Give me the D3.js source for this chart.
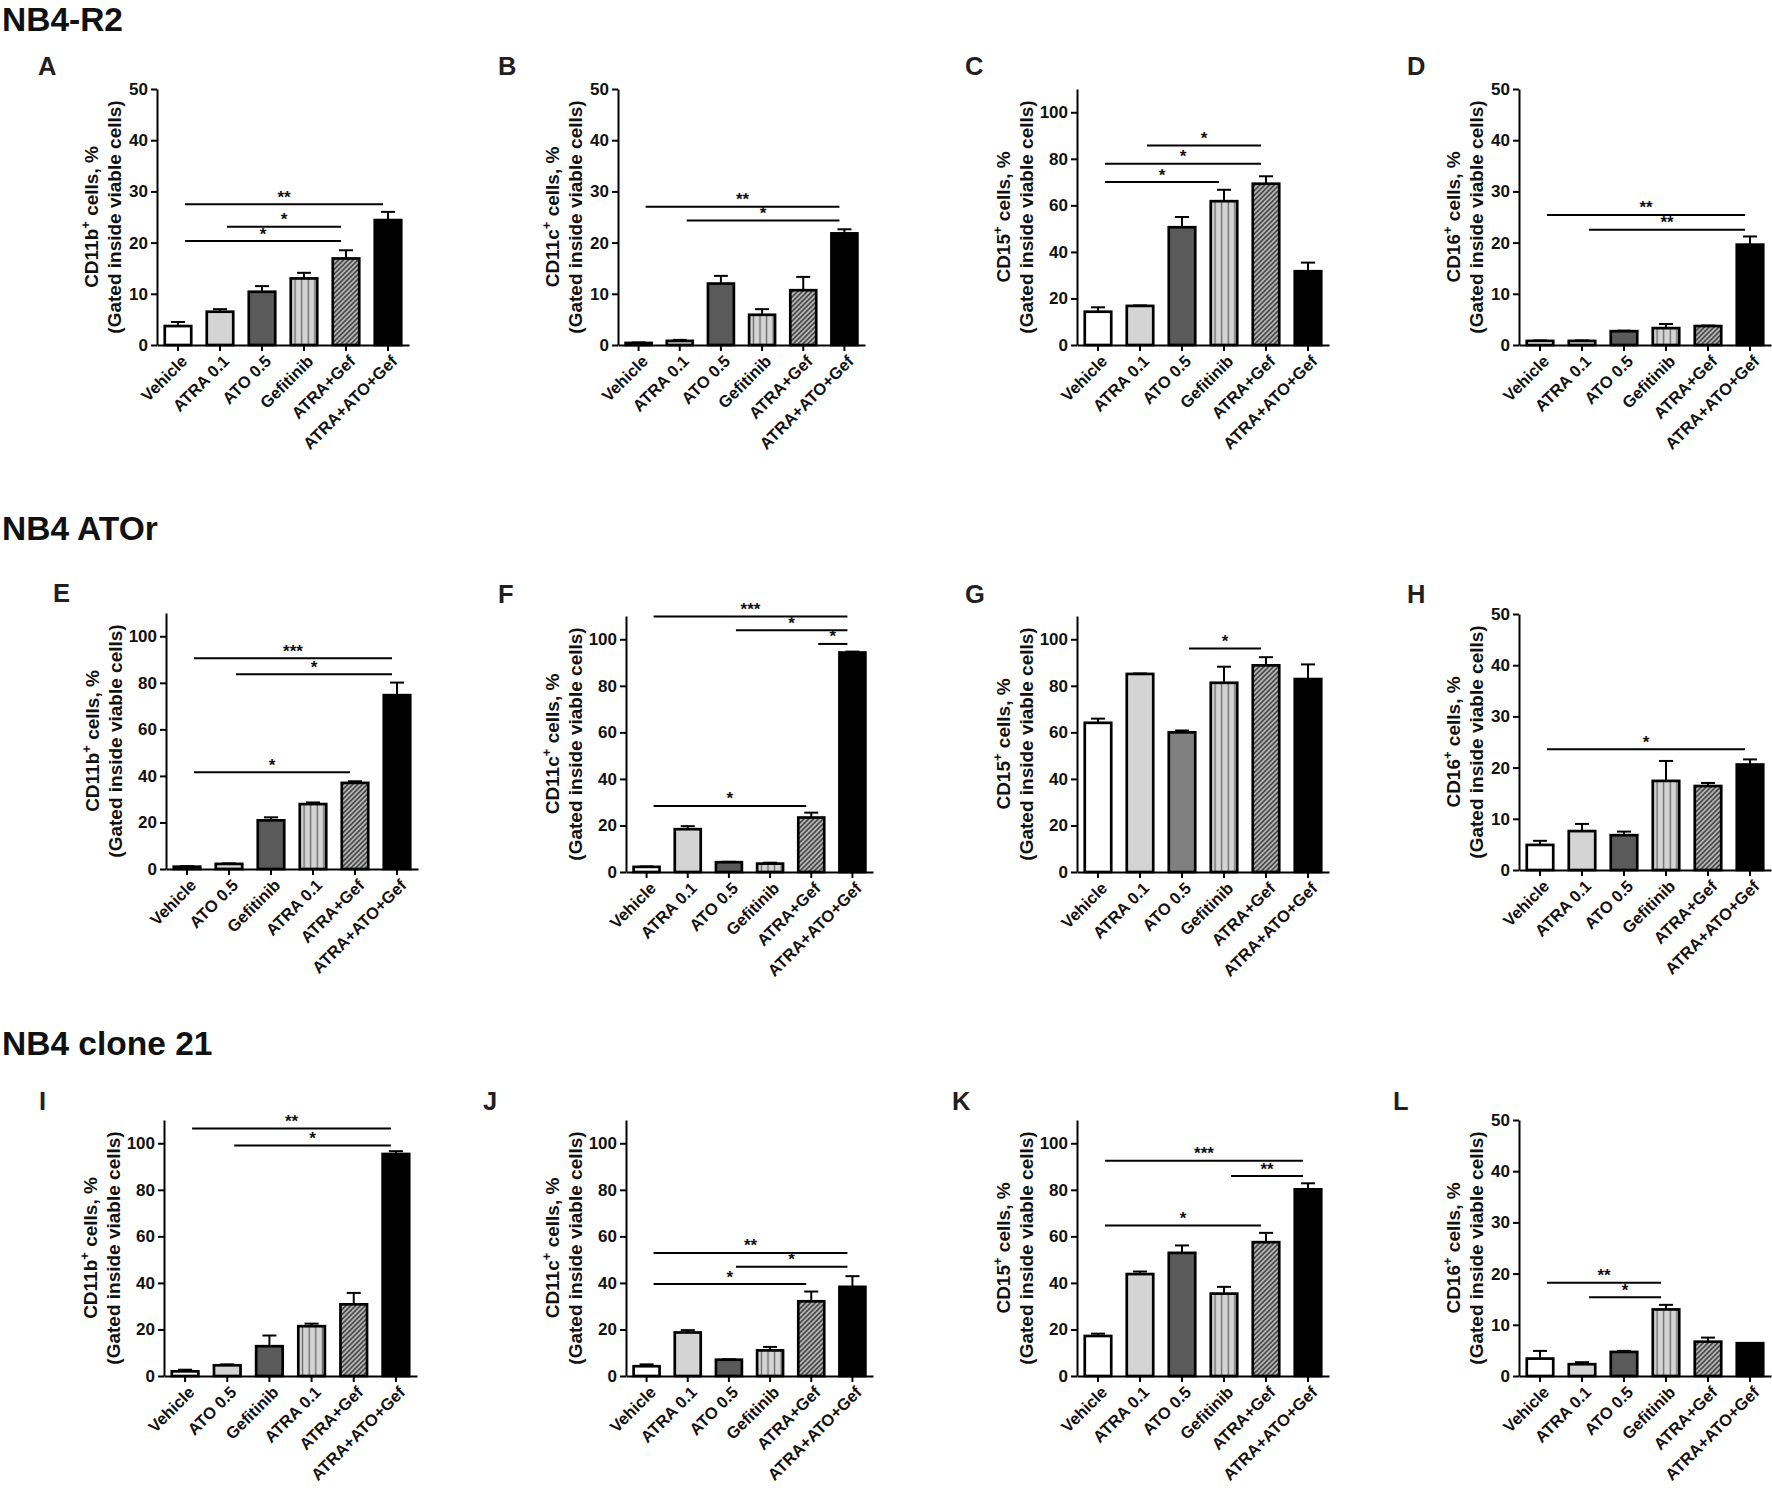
<!DOCTYPE html>
<html>
<head>
<meta charset="utf-8">
<script src="https://cdn.jsdelivr.net/npm/d3@7"></script>
<style>
  body { margin: 0; background: #fff; }
  svg { display: block; font-family: Arial, "Liberation Sans", sans-serif; }
</style>
</head>
<body>
<svg id="fig" width="1772" height="1488"></svg>
<script>
// categories (two orderings are used in the figure)
var catsStd = ["Vehicle", "ATRA 0.1", "ATO 0.5", "Gefitinib", "ATRA+Gef", "ATRA+ATO+Gef"];
var catsAlt = ["Vehicle", "ATO 0.5", "Gefitinib", "ATRA 0.1", "ATRA+Gef", "ATRA+ATO+Gef"];

var ticks50 = [0, 10, 20, 30, 40, 50];
var ticks100 = [0, 20, 40, 60, 80, 100];

// mean, error (SEM, upward) and significance bars [from, to, level, stars]
var meanA = [3.7, 6.5, 10.4, 13.0, 16.9, 24.4];
var errA  = [0.8, 0.5, 1.1, 1.1, 1.6, 1.6];
var sigA  = [[0, 5, 27.5, "**"], [1, 4, 23.1, "*"], [0, 4, 20.3, "*"]];

var meanB = [0.4, 0.8, 12.0, 5.9, 10.7, 21.8];
var errB  = [0.1, 0.2, 1.5, 1.1, 2.6, 0.8];
var sigB  = [[0, 5, 27.0, "**"], [1, 5, 24.3, "*"]];

var meanC = [14.3, 16.8, 50.6, 61.8, 69.3, 31.7];
var errC  = [1.9, 0.2, 4.4, 4.9, 3.2, 3.7];
var sigC  = [[1, 4, 85.7, "*"], [0, 4, 77.9, "*"], [0, 3, 70.0, "*"]];

var meanD = [0.8, 0.8, 2.7, 3.3, 3.7, 19.6];
var errD  = [0.1, 0.1, 0.1, 0.8, 0.1, 1.6];
var sigD  = [[0, 5, 25.4, "**"], [1, 5, 22.5, "**"]];

var meanE = [1.0, 2.2, 20.9, 27.9, 37.0, 74.7];
var errE  = [0.2, 0.2, 1.3, 0.7, 0.7, 5.4];
var sigE  = [[0, 5, 90.6, "***"], [1, 5, 83.7, "*"], [0, 4, 41.6, "*"]];

var meanF = [2.2, 18.4, 4.2, 3.6, 23.4, 94.3];
var errF  = [0.2, 1.3, 0.2, 0.4, 2.1, 0.4];
var sigF  = [[0, 5, 109.8, "***"], [2, 5, 103.9, "*"], [4, 5, 98.0, "*"], [0, 4, 28.4, "*"]];

var meanG = [64.1, 85.1, 60.0, 81.3, 88.8, 82.9];
var errG  = [1.8, 0.2, 0.8, 6.9, 3.5, 6.3];
var sigG  = [[2, 4, 96.0, "*"]];

var meanH = [4.9, 7.6, 6.8, 17.4, 16.4, 20.6];
var errH  = [0.8, 1.4, 0.7, 3.9, 0.6, 1.0];
var sigH  = [[0, 5, 23.6, "*"]];

var meanI = [2.0, 4.6, 12.8, 21.4, 30.8, 95.4];
var errI  = [0.7, 0.4, 4.6, 1.1, 4.9, 1.2];
var sigI  = [[0, 5, 106.3, "**"], [1, 5, 99.0, "*"]];

var meanJ = [4.2, 18.7, 7.0, 11.0, 32.1, 38.3];
var errJ  = [0.8, 1.0, 0.2, 1.5, 4.2, 4.6];
var sigJ  = [[0, 5, 52.9, "**"], [2, 5, 46.9, "*"], [0, 4, 39.5, "*"]];

var meanK = [17.2, 43.8, 52.9, 35.4, 57.5, 80.2];
var errK  = [1.0, 1.1, 3.2, 2.9, 4.0, 2.6];
var sigK  = [[0, 5, 92.5, "***"], [3, 5, 85.9, "**"], [0, 4, 64.7, "*"]];

var meanL = [3.4, 2.3, 4.7, 13.0, 6.7, 6.4];
var errL  = [1.5, 0.4, 0.2, 0.9, 0.8, 0];
var sigL  = [[0, 3, 18.2, "**"], [1, 3, 15.4, "*"]];

var sections = [
  {text: "NB4-R2", x: 2, y: 31},
  {text: "NB4 ATOr", x: 2, y: 540},
  {text: "NB4 clone 21", x: 2, y: 1055}
];

// panel layout
var panels = [
  {id: "A", marker: "CD11b", cats: catsStd, mean: meanA, err: errA, sig: sigA, max: 50, x: 157, w: 252, top: 89, lx: 38, ly: 75},
  {id: "B", marker: "CD11c", cats: catsStd, mean: meanB, err: errB, sig: sigB, max: 50, x: 618, w: 247, top: 89, lx: 498, ly: 75},
  {id: "C", marker: "CD15", cats: catsStd, mean: meanC, err: errC, sig: sigC, max: 110, x: 1077, w: 252, top: 89, lx: 965, ly: 75},
  {id: "D", marker: "CD16", cats: catsStd, mean: meanD, err: errD, sig: sigD, max: 50, x: 1519, w: 252, top: 89, lx: 1407, ly: 75},
  {id: "E", marker: "CD11b", cats: catsAlt, mean: meanE, err: errE, sig: sigE, max: 110, x: 166, w: 252, top: 613, lx: 53, ly: 602},
  {id: "F", marker: "CD11c", cats: catsStd, mean: meanF, err: errF, sig: sigF, max: 110, x: 626, w: 247, top: 616, lx: 498, ly: 603},
  {id: "G", marker: "CD15", cats: catsStd, mean: meanG, err: errG, sig: sigG, max: 110, x: 1077, w: 252, top: 616, lx: 965, ly: 603, midGray: true},
  {id: "H", marker: "CD16", cats: catsStd, mean: meanH, err: errH, sig: sigH, max: 50, x: 1519, w: 252, top: 614, lx: 1407, ly: 603},
  {id: "I", marker: "CD11b", cats: catsAlt, mean: meanI, err: errI, sig: sigI, max: 110, x: 164, w: 253, top: 1120, lx: 39, ly: 1110},
  {id: "J", marker: "CD11c", cats: catsStd, mean: meanJ, err: errJ, sig: sigJ, max: 110, x: 626, w: 247, top: 1120, lx: 483, ly: 1110},
  {id: "K", marker: "CD15", cats: catsStd, mean: meanK, err: errK, sig: sigK, max: 110, x: 1077, w: 252, top: 1120, lx: 952, ly: 1110},
  {id: "L", marker: "CD16", cats: catsStd, mean: meanL, err: errL, sig: sigL, max: 50, x: 1519, w: 252, top: 1120, lx: 1393, ly: 1110}
];

var plotH = 256;
var svg = d3.select("#fig");
svg.append("rect").attr("width", 1772).attr("height", 1488).attr("fill", "#fff");
var defs = svg.append("defs");

sections.forEach(function (s) {
  svg.append("text")
    .attr("x", s.x).attr("y", s.y)
    .attr("font-size", 33.5).attr("font-weight", "bold")
    .attr("fill", "#111")
    .text(s.text);
});

panels.forEach(function (p) {
  var y0 = p.top + plotH;
  var y = d3.scaleLinear().domain([0, p.max]).range([y0, p.top]);
  var x = d3.scaleBand().domain(p.cats).range([p.x, p.x + p.w])
    .paddingInner(0.37).paddingOuter(0.185);
  var bw = x.bandwidth();
  var cx = function (i) { return x(p.cats[i]) + bw / 2; };

  // patterns for this panel
  var vs = defs.append("pattern")
    .attr("id", "vs-" + p.id)
    .attr("patternUnits", "userSpaceOnUse")
    .attr("x", x(p.cats[3]) + 1)
    .attr("width", 6.6).attr("height", 10);
  vs.append("rect").attr("width", 6.6).attr("height", 10).attr("fill", "#d4d4d4");
  vs.append("line").attr("x1", 3.3).attr("x2", 3.3).attr("y1", 0).attr("y2", 10)
    .attr("stroke", "#666").attr("stroke-width", 1.3);

  var ht = defs.append("pattern")
    .attr("id", "ht-" + p.id)
    .attr("patternUnits", "userSpaceOnUse")
    .attr("width", 3.4).attr("height", 3.4)
    .attr("patternTransform", "rotate(45)");
  ht.append("rect").attr("width", 3.4).attr("height", 3.4).attr("fill", "#e2e2e2");
  ht.append("line").attr("x1", 1.7).attr("x2", 1.7).attr("y1", 0).attr("y2", 3.4)
    .attr("stroke", "#4a4a4a").attr("stroke-width", 2.2);

  var fills = ["#ffffff", "#d4d4d4", p.midGray ? "#808080" : "#5a5a5a",
    "url(#vs-" + p.id + ")", "url(#ht-" + p.id + ")", "#000000"];

  var g = svg.append("g");

  // panel letter
  svg.append("text")
    .attr("x", p.lx).attr("y", p.ly)
    .attr("font-size", 25.5).attr("font-weight", "bold")
    .attr("fill", "#231f20")
    .text(p.id);

  // error bars
  g.selectAll(".err").data(p.mean).join("g").each(function (m, i) {
    var e = p.err[i];
    if (!e) return;
    var gg = d3.select(this);
    gg.append("line").attr("x1", cx(i)).attr("x2", cx(i))
      .attr("y1", y(m)).attr("y2", y(m + e))
      .attr("stroke", "#000").attr("stroke-width", 2);
    gg.append("line").attr("x1", cx(i) - 7).attr("x2", cx(i) + 7)
      .attr("y1", y(m + e)).attr("y2", y(m + e))
      .attr("stroke", "#000").attr("stroke-width", 2);
  });

  // bars
  g.selectAll(".bar").data(p.mean).join("rect")
    .attr("x", function (d, i) { return x(p.cats[i]); })
    .attr("y", function (d) { return y(d); })
    .attr("width", bw)
    .attr("height", function (d) { return y0 - y(d); })
    .attr("fill", function (d, i) { return fills[i]; })
    .attr("stroke", "#000").attr("stroke-width", 2.7);

  // axes
  var ya = g.append("g").attr("transform", "translate(" + p.x + ",0)")
    .call(d3.axisLeft(y).tickValues(p.max === 50 ? ticks50 : ticks100)
      .tickSize(6).tickPadding(3).tickSizeOuter(0));
  var xa = g.append("g").attr("transform", "translate(0," + y0 + ")")
    .call(d3.axisBottom(x).tickSize(6).tickSizeOuter(0).tickFormat(""));
  [ya, xa].forEach(function (a) {
    a.select(".domain").attr("stroke", "#000").attr("stroke-width", 2);
    a.selectAll(".tick line").attr("stroke", "#000").attr("stroke-width", 2);
  });
  ya.selectAll(".tick text")
    .attr("font-size", 17).attr("font-weight", "bold")
    .attr("font-family", "Arial, 'Liberation Sans', sans-serif")
    .attr("fill", "#111");

  // rotated category labels
  g.selectAll(".xl").data(p.cats).join("text")
    .attr("transform", function (d, i) {
      return "translate(" + (cx(i) + 2) + "," + (y0 + 9) + ") rotate(-45)";
    })
    .attr("dy", "0.71em")
    .attr("text-anchor", "end")
    .attr("font-size", 16.5).attr("font-weight", "bold")
    .attr("fill", "#111")
    .text(function (d) { return d; });

  // y axis title (two lines)
  var cy = p.top + plotH / 2;
  var off1 = p.max === 50 ? 59 : 67;
  var off2 = p.max === 50 ? 36 : 44;
  var t1 = g.append("text")
    .attr("transform", "translate(" + (p.x - off1) + "," + cy + ") rotate(-90)")
    .attr("text-anchor", "middle")
    .attr("font-size", 19).attr("font-weight", "bold").attr("fill", "#111");
  t1.append("tspan").text(p.marker);
  t1.append("tspan").attr("dy", -8).attr("font-size", 13).text("+");
  t1.append("tspan").attr("dy", 8).text(" cells, %");
  g.append("text")
    .attr("transform", "translate(" + (p.x - off2) + "," + cy + ") rotate(-90)")
    .attr("text-anchor", "middle")
    .attr("font-size", 19).attr("font-weight", "bold").attr("fill", "#111")
    .text("(Gated inside viable cells)");

  // significance bars
  p.sig.forEach(function (s) {
    var xa1 = cx(s[0]) + 7, xa2 = cx(s[1]) - 5, yy = y(s[2]);
    g.append("line").attr("x1", xa1).attr("x2", xa2)
      .attr("y1", yy).attr("y2", yy)
      .attr("stroke", "#000").attr("stroke-width", 2);
    g.append("text")
      .attr("x", (xa1 + xa2) / 2).attr("y", yy - 1.5)
      .attr("text-anchor", "middle")
      .attr("font-size", 17).attr("font-weight", "bold").attr("fill", "#111")
      .text(s[3]);
  });
});
</script>
</body>
</html>
